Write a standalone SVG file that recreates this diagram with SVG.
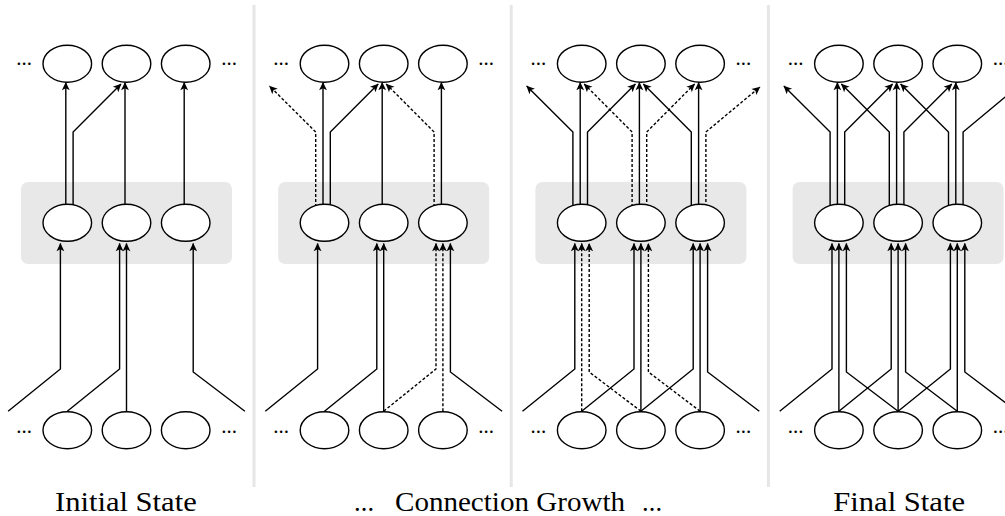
<svg xmlns="http://www.w3.org/2000/svg" width="1005" height="516" viewBox="0 0 1005 516">
  <style>
    .sep { stroke: #e6e6e6; stroke-width: 3; }
    .layer { fill: #e8e8e8; }
    .node ellipse { fill: #ffffff; stroke: #000000; stroke-width: 1.4; }
    .dots { font-family: "Liberation Serif", "Times New Roman", serif; font-size: 21px; fill: #000; text-anchor: middle; }
    .edge { fill: none; stroke: #000000; stroke-width: 1.4; marker-end: url(#arrow); }
    .dash { stroke-dasharray: 3 2; }
    .label { font-family: "Liberation Serif", "Times New Roman", serif; font-size: 26.5px; fill: #000; }
  </style>
  <defs>
    <marker id="arrow" viewBox="-9 -5 10 10" refX="0" refY="0" markerWidth="10" markerHeight="10" markerUnits="userSpaceOnUse" orient="auto">
      <path d="M0.5,0 L-7.8,-3.9 L-5.8,0 L-7.8,3.9 Z" fill="#000000"/>
    </marker>
  </defs>

  <!-- stage separators -->
  <g id="separators">
    <line class="sep" x1="254" y1="5" x2="254" y2="487"/>
    <line class="sep" x1="511.2" y1="5" x2="511.2" y2="487"/>
    <line class="sep" x1="768.4" y1="5" x2="768.4" y2="487"/>
  </g>

  <!-- ===== Stage 1: initial state ===== -->
  <g id="stage1" transform="translate(0,0)">
    <rect id="s1-layer" class="layer" x="21" y="182" width="211" height="82" rx="7"/>
    <g id="s1-connectors">
      <path class="edge" d="M65.8 222 V82.5"/>
      <path class="edge" d="M73.1 222 V132 L121 84"/>
      <path class="edge" d="M125 222 V82.5"/>
      <path class="edge" d="M184.2 222 V82.5"/>
      <path class="edge" d="M8.1 411.2 L60.4 369 V243.5"/>
      <path class="edge" d="M67.3 411.2 L119.6 369 V243.5"/>
      <path class="edge" d="M126.5 411.2 V243.5"/>
      <path class="edge" d="M244.9 411.2 L193.2 372 V243.5"/>
    </g>
    <g id="s1-t1" class="node"><ellipse cx="67.3" cy="63.7" rx="24.3" ry="18.5"/></g>
    <g id="s1-t2" class="node"><ellipse cx="126.5" cy="63.7" rx="24.3" ry="18.5"/></g>
    <g id="s1-t3" class="node"><ellipse cx="185.7" cy="63.7" rx="24.3" ry="18.5"/></g>
    <g id="s1-m1" class="node"><ellipse cx="67.3" cy="222.8" rx="24.3" ry="18.5"/></g>
    <g id="s1-m2" class="node"><ellipse cx="126.5" cy="222.8" rx="24.3" ry="18.5"/></g>
    <g id="s1-m3" class="node"><ellipse cx="185.7" cy="222.8" rx="24.3" ry="18.5"/></g>
    <g id="s1-b1" class="node"><ellipse cx="67.3" cy="430.2" rx="24.3" ry="18.5"/></g>
    <g id="s1-b2" class="node"><ellipse cx="126.5" cy="430.2" rx="24.3" ry="18.5"/></g>
    <g id="s1-b3" class="node"><ellipse cx="185.7" cy="430.2" rx="24.3" ry="18.5"/></g>
    <g id="s1-dots">
      <text class="dots" x="24" y="64.6">...</text>
      <text class="dots" x="229" y="64.6">...</text>
      <text class="dots" x="24" y="432.8">...</text>
      <text class="dots" x="229" y="432.8">...</text>
    </g>
  </g>

  <!-- ===== Stage 2: connection growth ===== -->
  <g id="stage2" transform="translate(257.2,0)">
    <rect id="s2-layer" class="layer" x="21" y="182" width="211" height="82" rx="7"/>
    <g id="s2-connectors">
      <path class="edge dash" d="M58.5 222 V132 L12.3 86"/>
      <path class="edge" d="M65.8 222 V82.5"/>
      <path class="edge" d="M73.1 222 V132 L121 84"/>
      <path class="edge" d="M125 222 V82.5"/>
      <path class="edge dash" d="M176.9 222 V132 L129 84"/>
      <path class="edge" d="M184.2 222 V82.5"/>
      <path class="edge" d="M8.1 411.2 L60.4 369 V243.5"/>
      <path class="edge" d="M67.3 411.2 L119.6 369 V243.5"/>
      <path class="edge" d="M126.5 411.2 V243.5"/>
      <path class="edge dash" d="M126.5 411.2 L178.8 369 V243.5"/>
      <path class="edge dash" d="M185.7 411.2 V243.5"/>
      <path class="edge" d="M244.9 411.2 L193.2 372 V243.5"/>
    </g>
    <g id="s2-t1" class="node"><ellipse cx="67.3" cy="63.7" rx="24.3" ry="18.5"/></g>
    <g id="s2-t2" class="node"><ellipse cx="126.5" cy="63.7" rx="24.3" ry="18.5"/></g>
    <g id="s2-t3" class="node"><ellipse cx="185.7" cy="63.7" rx="24.3" ry="18.5"/></g>
    <g id="s2-m1" class="node"><ellipse cx="67.3" cy="222.8" rx="24.3" ry="18.5"/></g>
    <g id="s2-m2" class="node"><ellipse cx="126.5" cy="222.8" rx="24.3" ry="18.5"/></g>
    <g id="s2-m3" class="node"><ellipse cx="185.7" cy="222.8" rx="24.3" ry="18.5"/></g>
    <g id="s2-b1" class="node"><ellipse cx="67.3" cy="430.2" rx="24.3" ry="18.5"/></g>
    <g id="s2-b2" class="node"><ellipse cx="126.5" cy="430.2" rx="24.3" ry="18.5"/></g>
    <g id="s2-b3" class="node"><ellipse cx="185.7" cy="430.2" rx="24.3" ry="18.5"/></g>
    <g id="s2-dots">
      <text class="dots" x="24" y="64.6">...</text>
      <text class="dots" x="229" y="64.6">...</text>
      <text class="dots" x="24" y="432.8">...</text>
      <text class="dots" x="229" y="432.8">...</text>
    </g>
  </g>

  <!-- ===== Stage 3: connection growth ===== -->
  <g id="stage3" transform="translate(514.4,0)">
    <rect id="s3-layer" class="layer" x="21" y="182" width="211" height="82" rx="7"/>
    <g id="s3-connectors">
      <path class="edge" d="M58.5 222 V132 L12.3 86"/>
      <path class="edge" d="M65.8 222 V82.5"/>
      <path class="edge" d="M73.1 222 V132 L121 84"/>
      <path class="edge dash" d="M117.7 222 V132 L69.8 84"/>
      <path class="edge" d="M125 222 V82.5"/>
      <path class="edge dash" d="M132.3 222 V132 L180.2 84"/>
      <path class="edge" d="M176.9 222 V132 L129 84"/>
      <path class="edge" d="M184.2 222 V82.5"/>
      <path class="edge dash" d="M191.5 222 V132 L245.5 87"/>
      <path class="edge" d="M8.1 411.2 L60.4 369 V243.5"/>
      <path class="edge dash" d="M67.3 411.2 V243.5"/>
      <path class="edge dash" d="M126.5 411.2 L74.8 372 V243.5"/>
      <path class="edge" d="M67.3 411.2 L119.6 369 V243.5"/>
      <path class="edge" d="M126.5 411.2 V243.5"/>
      <path class="edge dash" d="M185.7 411.2 L134 372 V243.5"/>
      <path class="edge" d="M126.5 411.2 L178.8 369 V243.5"/>
      <path class="edge" d="M185.7 411.2 V243.5"/>
      <path class="edge" d="M244.9 411.2 L193.2 372 V243.5"/>
    </g>
    <g id="s3-t1" class="node"><ellipse cx="67.3" cy="63.7" rx="24.3" ry="18.5"/></g>
    <g id="s3-t2" class="node"><ellipse cx="126.5" cy="63.7" rx="24.3" ry="18.5"/></g>
    <g id="s3-t3" class="node"><ellipse cx="185.7" cy="63.7" rx="24.3" ry="18.5"/></g>
    <g id="s3-m1" class="node"><ellipse cx="67.3" cy="222.8" rx="24.3" ry="18.5"/></g>
    <g id="s3-m2" class="node"><ellipse cx="126.5" cy="222.8" rx="24.3" ry="18.5"/></g>
    <g id="s3-m3" class="node"><ellipse cx="185.7" cy="222.8" rx="24.3" ry="18.5"/></g>
    <g id="s3-b1" class="node"><ellipse cx="67.3" cy="430.2" rx="24.3" ry="18.5"/></g>
    <g id="s3-b2" class="node"><ellipse cx="126.5" cy="430.2" rx="24.3" ry="18.5"/></g>
    <g id="s3-b3" class="node"><ellipse cx="185.7" cy="430.2" rx="24.3" ry="18.5"/></g>
    <g id="s3-dots">
      <text class="dots" x="24" y="64.6">...</text>
      <text class="dots" x="229" y="64.6">...</text>
      <text class="dots" x="24" y="432.8">...</text>
      <text class="dots" x="229" y="432.8">...</text>
    </g>
  </g>

  <!-- ===== Stage 4: final state ===== -->
  <g id="stage4" transform="translate(771.6,0)">
    <rect id="s4-layer" class="layer" x="21" y="182" width="211" height="82" rx="7"/>
    <g id="s4-connectors">
      <path class="edge" d="M58.5 222 V132 L12.3 86"/>
      <path class="edge" d="M65.8 222 V82.5"/>
      <path class="edge" d="M73.1 222 V132 L121 84"/>
      <path class="edge" d="M117.7 222 V132 L69.8 84"/>
      <path class="edge" d="M125 222 V82.5"/>
      <path class="edge" d="M132.3 222 V132 L180.2 84"/>
      <path class="edge" d="M176.9 222 V132 L129 84"/>
      <path class="edge" d="M184.2 222 V82.5"/>
      <path class="edge" d="M191.5 222 V132 L245.5 87"/>
      <path class="edge" d="M8.1 411.2 L60.4 369 V243.5"/>
      <path class="edge" d="M67.3 411.2 V243.5"/>
      <path class="edge" d="M126.5 411.2 L74.8 372 V243.5"/>
      <path class="edge" d="M67.3 411.2 L119.6 369 V243.5"/>
      <path class="edge" d="M126.5 411.2 V243.5"/>
      <path class="edge" d="M185.7 411.2 L134 372 V243.5"/>
      <path class="edge" d="M126.5 411.2 L178.8 369 V243.5"/>
      <path class="edge" d="M185.7 411.2 V243.5"/>
      <path class="edge" d="M244.9 411.2 L193.2 372 V243.5"/>
    </g>
    <g id="s4-t1" class="node"><ellipse cx="67.3" cy="63.7" rx="24.3" ry="18.5"/></g>
    <g id="s4-t2" class="node"><ellipse cx="126.5" cy="63.7" rx="24.3" ry="18.5"/></g>
    <g id="s4-t3" class="node"><ellipse cx="185.7" cy="63.7" rx="24.3" ry="18.5"/></g>
    <g id="s4-m1" class="node"><ellipse cx="67.3" cy="222.8" rx="24.3" ry="18.5"/></g>
    <g id="s4-m2" class="node"><ellipse cx="126.5" cy="222.8" rx="24.3" ry="18.5"/></g>
    <g id="s4-m3" class="node"><ellipse cx="185.7" cy="222.8" rx="24.3" ry="18.5"/></g>
    <g id="s4-b1" class="node"><ellipse cx="67.3" cy="430.2" rx="24.3" ry="18.5"/></g>
    <g id="s4-b2" class="node"><ellipse cx="126.5" cy="430.2" rx="24.3" ry="18.5"/></g>
    <g id="s4-b3" class="node"><ellipse cx="185.7" cy="430.2" rx="24.3" ry="18.5"/></g>
    <g id="s4-dots">
      <text class="dots" x="24" y="64.6">...</text>
      <text class="dots" x="229" y="64.6">...</text>
      <text class="dots" x="24" y="432.8">...</text>
      <text class="dots" x="229" y="432.8">...</text>
    </g>
  </g>

  <!-- captions -->
  <g id="captions">
    <text class="label" x="55" y="511" textLength="141.7" lengthAdjust="spacingAndGlyphs">Initial State</text>
    <text class="label" x="354" y="511" textLength="20" lengthAdjust="spacing">...</text>
    <text class="label" x="395" y="511" textLength="230" lengthAdjust="spacingAndGlyphs">Connection Growth</text>
    <text class="label" x="642" y="511" textLength="20" lengthAdjust="spacing">...</text>
    <text class="label" x="833.3" y="511" textLength="131.7" lengthAdjust="spacingAndGlyphs">Final State</text>
  </g>
</svg>
